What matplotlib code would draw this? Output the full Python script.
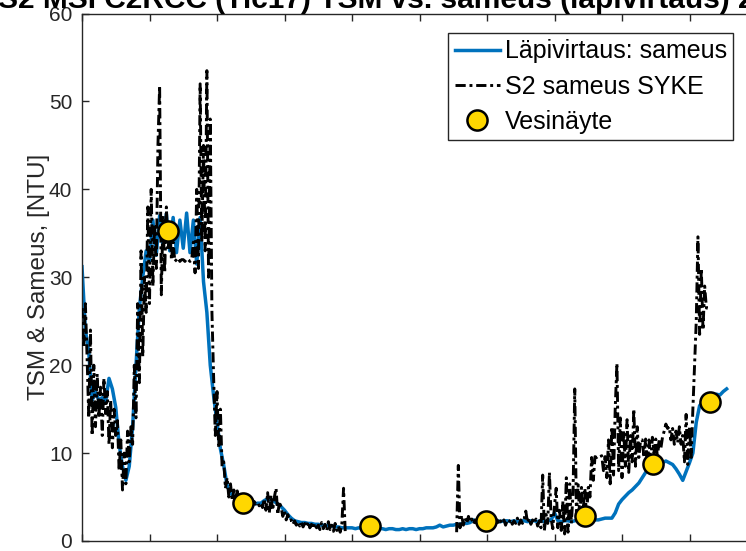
import numpy as np
import matplotlib
matplotlib.use("Agg")
import matplotlib.pyplot as plt

plt.rcParams['font.family'] = ['Liberation Sans', 'DejaVu Sans']

title_text = "S2 MSI C2RCC (Tic17) TSM vs. sameus (läpivirtaus) 2017"
ylabel_text = "TSM & Sameus, [NTU]"
labels = ["Läpivirtaus: sameus", "S2 sameus SYKE", "Vesinäyte"]

# ---- Läpivirtaus (flow-through) turbidity, NTU, every 0.5 days from day 0
blue_step = 0.5
blue_vals = [
    31.2, 24.0, 21.5, 16.0, 17.0, 16.0, 16.3, 15.8, 18.5, 17.3,
    15.2, 11.0, 8.5, 6.9, 8.5, 13.0, 20.0, 26.5, 30.0, 33.0,
    31.8, 36.5, 32.5, 37.0, 33.5, 37.2, 33.0, 36.8, 32.8, 36.5,
    33.3, 37.3, 32.8, 36.5, 31.5, 36.8, 29.5, 26.0, 20.0, 16.5,
    13.5, 10.5, 8.6, 6.3, 5.4, 5.1, 4.9, 4.8, 4.6, 4.4,
    4.3, 4.2, 4.3, 4.3, 4.6, 4.8, 4.7, 4.5, 4.2, 3.9,
    3.5, 3.0, 2.6, 2.3, 2.2, 2.1, 2.1, 2.0, 2.0, 1.9,
    1.9, 1.8, 1.8, 1.7, 1.7, 1.6, 1.6, 1.5, 1.5, 1.5,
    1.5, 1.4, 1.5, 1.4, 1.4, 1.5, 1.4, 1.3, 1.4, 1.4,
    1.3, 1.4, 1.4, 1.3, 1.3, 1.4, 1.3, 1.4, 1.4, 1.3,
    1.4, 1.4, 1.5, 1.5, 1.5, 1.6, 1.8, 1.6, 1.7, 1.8,
    1.8, 1.9, 1.9, 2.0, 2.0, 2.1, 2.4, 2.1, 2.1, 2.2,
    2.2, 2.3, 2.2, 2.3, 2.2, 2.3, 2.3, 2.2, 2.3, 2.2,
    2.3, 2.3, 2.2, 2.3, 2.3, 2.2, 2.3, 2.2, 2.3, 2.4,
    3.2, 2.3, 2.2, 2.3, 2.3, 2.2, 2.3, 2.4, 2.3, 2.4,
    2.4, 2.5, 2.4, 2.4, 2.5, 2.6, 2.6, 2.6, 3.2, 4.2,
    4.7, 5.1, 5.5, 5.8, 6.2, 6.6, 7.2, 7.8, 8.2, 8.4,
    8.6, 8.8, 8.9, 9.1, 8.9, 8.7, 8.2, 7.6, 6.9, 7.9,
    8.9, 10.0, 13.5, 15.4, 15.8, 15.5, 16.0, 16.4, 16.7, 16.6,
    17.0, 17.3,
]

# ---- S2 sameus SYKE turbidity, NTU, every 0.25 days, two data segments
black_step = 0.25
black_seg1_start = 0.0
black_seg1 = [
    26.5, 22.0, 27.0, 21.0,   14.0, 24.0, 12.0, 20.0,
    13.0, 19.0, 14.0, 17.5,   12.0, 18.5, 14.5, 17.0,
    11.0, 16.0, 10.6, 15.0,   12.0, 13.7, 8.0, 11.5,
    5.8, 10.0, 6.5, 12.5,     9.0, 13.0, 11.0, 20.0,
    14.0, 27.0, 18.0, 33.0,   21.0, 30.0, 26.0, 38.0,
    27.0, 40.0, 29.0, 36.0,   31.0, 45.0, 51.8, 28.0,
    37.0, 30.5, 38.0, 33.0,   36.0, 32.0, 34.0, 31.8,
    32.0, 32.2, 31.8, 32.0,   32.0, 31.8, 32.1, 32.0,
    31.8, 32.0, 34.0, 30.5,   40.0, 31.0, 52.0, 34.0,
    45.0, 33.0, 53.5, 30.0,   48.0, 26.0, 18.6, 12.0,
    17.0, 10.6, 15.0, 8.5,    9.0, 6.0, 7.2, 5.0,
    6.5, 4.6, 5.8, 4.8,       5.7, 4.2, 5.2, 3.8,
    4.8, 4.0, 5.0, 4.1,       4.6, 3.9, 4.5, 4.2,
    4.4, 4.0, 4.3, 3.8,       4.8, 3.5, 5.5, 3.2,
    5.2, 3.5, 5.0, 6.0,       3.0, 4.5, 3.8, 2.8,
    3.5, 2.4, 3.0, 2.3,       2.4, 1.9, 2.3, 1.8,
    2.2, 1.7, 2.1, 1.6,       2.0, 1.6, 2.2, 1.5,
    1.9, 1.4, 2.0, 1.5,       1.8, 1.3, 2.1, 1.4,
    1.9, 1.2, 2.2, 1.3,       1.8, 1.1, 2.0, 1.2,
    1.7, 1.0, 2.0, 6.0,       1.0,
]
black_seg2_start = 55.5
black_seg2 = [
    1.0, 8.6,
    1.5, 2.9, 1.8, 2.6,       2.0, 2.8, 2.2, 2.5,
    1.9, 2.4, 2.0, 2.3,       2.1, 2.4, 2.0, 2.3,
    2.0, 2.4, 1.9, 2.3,       2.2, 2.0, 2.4, 1.9,
    2.3, 2.0, 2.4, 1.8,       2.3, 2.1, 2.5, 1.9,
    2.3, 2.0, 2.6, 1.9,       2.4, 2.0, 2.5, 3.4,
    2.1, 2.6, 1.9, 2.4,       2.0, 2.5, 1.7, 2.3,
    1.5, 7.5, 1.2, 3.0,       2.0, 7.8, 2.5, 1.4,
    4.0, 6.0, 1.5, 3.5,       1.2, 4.5, 0.8, 7.2,
    1.0, 6.5, 2.0, 5.5,       17.3, 3.0, 6.4, 2.6,
    6.1, 3.5, 6.0, 2.8,       6.1, 5.0, 9.5, 6.9,
    9.6, 9.5, 9.7, 9.6,       9.7, 8.0, 9.6, 7.2,
    11.5, 6.5, 13.0, 7.5,     15.2, 20.2, 8.0, 14.0,
    7.2, 12.5, 8.5, 13.8,     7.8, 12.0, 9.0, 15.0,
    8.5, 13.0, 9.5, 11.5,     11.5, 9.5, 11.6, 8.5,
    11.5, 9.0, 11.8, 10.0,    11.6, 9.5, 11.5, 10.5,
    11.8, 12.5, 13.3, 12.8,   13.0, 11.5, 12.8, 11.0,
    12.5, 11.2, 13.0, 11.0,   12.0, 9.0, 14.4, 8.7,
    13.0, 9.5, 15.0, 20.0,    25.0, 34.6, 23.5, 31.0,
    24.0, 29.0, 26.5, 26.5,   26.5,
]

# ---- Vesinäyte (water samples)
sample_days = [12.8, 23.9, 42.6, 59.8, 74.5, 84.6, 93.0]
sample_vals = [35.3, 4.3, 1.7, 2.3, 2.8, 8.8, 15.8]

blue_days = np.arange(len(blue_vals)) * blue_step
seg1_days = black_seg1_start + np.arange(len(black_seg1)) * black_step
seg2_days = black_seg2_start + np.arange(len(black_seg2)) * black_step
black_days = np.concatenate([seg1_days, [np.nan], seg2_days])
black_vals = np.concatenate([black_seg1, [np.nan], black_seg2])

fig = plt.figure(figsize=(7.46, 5.51), dpi=100)
ax = fig.add_axes([82 / 746, 10 / 551, 675 / 746, 527.5 / 551])

ax.plot(blue_days, blue_vals, color='#0072BD', lw=2.5, label=labels[0], zorder=2)
ax.plot(black_days, black_vals, color='black', lw=2.1,
        linestyle=(0, (3.5, 1.3, 1.0, 1.3)), label=labels[1], zorder=3)
ax.plot(sample_days, sample_vals, 'o', color='#FFD700', mec='black', mew=1.8,
        ms=14.5, label=labels[2], zorder=4)

ax.set_xlim(0, 100)
ax.set_ylim(0, 60)
ax.set_xticks(np.arange(0, 101, 10))
ax.set_xticklabels([])
ax.set_yticks(np.arange(0, 61, 10))

axcol = '#262626'
for s in ax.spines.values():
    s.set_color(axcol)
    s.set_linewidth(1.0)
ax.tick_params(direction='in', top=True, right=True, length=5, width=1,
               colors=axcol, labelsize=15, pad=7)
ax.set_ylabel(ylabel_text, fontsize=17.5, color=axcol, labelpad=-1)

fig.text(-0.003, 1 - 8 / 551, title_text, ha='left', va='baseline',
         fontsize=21.5, fontweight='bold', color='black')

leg = ax.legend(loc='upper right', bbox_to_anchor=(651 / 675, 1 - 19.5 / 527.5),
                borderaxespad=0, fontsize=18, frameon=True, fancybox=False,
                framealpha=1, edgecolor=axcol, handlelength=1.8,
                handletextpad=0.2, labelspacing=0.45, borderpad=0.25)
leg.get_frame().set_linewidth(1.0)

fig.savefig('out.png', dpi=100)
